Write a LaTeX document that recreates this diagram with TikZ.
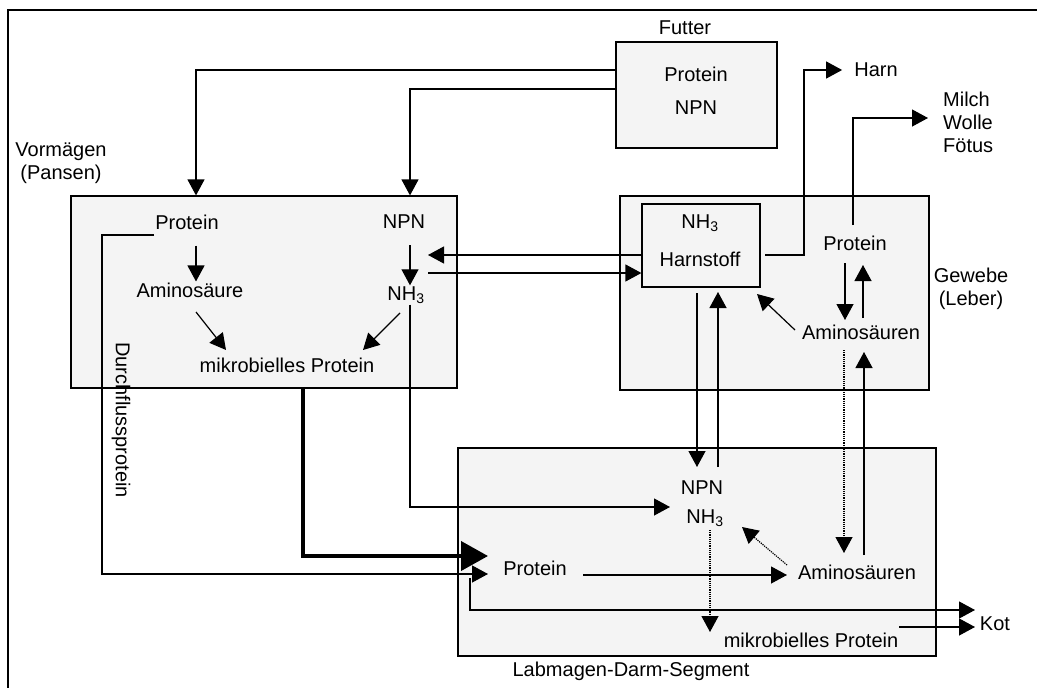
\documentclass[tikz,border=0pt]{standalone}
\usepackage{fontspec}
\setmainfont{Liberation Sans}
\usetikzlibrary{arrows.meta,fit}

\newcommand\fs{\fontsize{20}{23}\selectfont}

\tikzset{
	txt/.style={font=\fs, inner sep=1pt},
	box/.style={draw, fill=gray!9, line width=1.2pt, inner sep=0pt},
	ln/.style={line width=1.2pt},
	arr/.style={ln, -{Triangle[length=16pt,width=17pt]}},
	bigarr/.style={line width=4pt, -{Triangle[length=27pt,width=29pt]}},
	dots/.style={arr, densely dotted},
}

\begin{document}
\begin{tikzpicture}[x=1pt, y=-1pt]
	\clip (0,0) rectangle (1037,688);
	\fill[white] (0,0) rectangle (1037,688);
	\draw[ln] (8,10) rectangle (1060,720);
	
	% boxes
	\node[box, fit={(616,42) (777,148)}] (futter) {};
	\node[box, fit={(71,196) (457,388)}] (vorm) {};
	\node[box, fit={(620,196) (929,390)}] (gewebe) {};
	\node[box, fit={(642,204) (760,287)}] (hst) {};
	\node[box, fit={(458,448) (936,656)}] (darm) {};
	
	% labels outside
	\node[txt] (futterlbl) at (685,28) {Futter};
	\node[txt, align=center] (vorlbl) at (61,163) {Vormägen\\(Pansen)};
	\node[txt, align=center] (gewlbl) at (971,289) {Gewebe\\(Leber)};
	\node[txt] (harn) at (876,70) {Harn};
	\node[txt, align=left, anchor=west] (milch) at (942,122) {Milch\\Wolle\\Fötus};
	\node[txt] (kot) at (995,624) {Kot};
	\node[txt] (darmlbl) at (631,671) {Labmagen-Darm-Segment};
	\node[txt, rotate=-90] (durch) at (121,420) {Durchflussprotein};
	
	% Futter
	\node[txt] (fp) at (696,74) {Protein};
	\node[txt] (fnpn) at (696,108) {NPN};
	
	% Vormaegen
	\node[txt] (vp) at (187,222) {Protein};
	\node[txt] (vnpn) at (404,222) {NPN};
	\node[txt] (vas) at (190,290) {Aminosäure};
	\node[txt] (vnh) at (406,295) {NH\textsubscript{3}};
	\node[txt] (vmp) at (287,365) {mikrobielles Protein};
	
	% Gewebe
	\node[txt] (gnh) at (700,223) {NH\textsubscript{3}};
	\node[txt] (gharn) at (700,259) {Harnstoff};
	\node[txt] (gp) at (855,243) {Protein};
	\node[txt] (gas) at (861,332) {Aminosäuren};
	
	% Labmagen-Darm
	\node[txt] (lnpn) at (702,488) {NPN};
	\node[txt] (lnh) at (705,518) {NH\textsubscript{3}};
	\node[txt] (lp) at (535,568) {Protein};
	\node[txt] (las) at (857,572) {Aminosäuren};
	\node[txt] (lmp) at (811,640) {mikrobielles Protein};
	
	% Futter -> Vormaegen
	\draw[arr] (futter.west |- 0,70) -| (vorm.north -| 196,0);
	\draw[arr] (futter.west |- 0,89) -| (vorm.north -| 410,0);
	
	% inside Vormaegen
	\draw[arr, shorten <=15pt] (vp.south -| 196,0) -- (vas.north -| 196,0);
	\draw[arr, shorten <=15pt] (vnpn.south -| 410,0) -- (vnh.north -| 410,0);
	\draw[arr] (196,312) -- (226,350);
	\draw[arr] (400,313) -- (363,350);
	
	% Vormaegen <-> Harnstoff
	\draw[arr] (hst.west |- 0,255) -- (428,255);
	\draw[arr] (428,273) -- (hst.west |- 0,273);
	
	% Gewebe
	\draw[arr, shorten >=11pt] (765,255) -| (804,70) -- (harn.west);
	\draw[arr] (853,225) |- (928,118);
	\draw[arr] (845,263) -- (845,320);
	\draw[arr] (863,318) -- (863,265);
	\draw[arr] (795,330) -- (757,294);
	
	% Gewebe <-> Labmagen-Darm
	\draw[arr] (697,293) -- (697,467);
	\draw[arr] (718,467) -- (718,292);
	\draw[dots] (844,350) -- (844,553);
	\draw[arr] (864,555) -- (864,352);
	
	% Vormaegen -> Labmagen-Darm
	\draw[arr] (vnh.south -| 410,0) |- (670,507);
	\draw[bigarr] (vorm.south -| 303,0) |- (488,556);
	\draw[arr] (vp.west |- 0,235) -| (102,574) -- (488,574);
	
	% inside Labmagen-Darm
	\draw[arr] (583,575) -- (787,575);
	\draw[dots] (787,565) -- (742,527);
	\draw[dots] (710,530) -- (710,632);
	\draw[arr] (470,578) |- (975,610);
	\draw[arr] (899,627) -- (975,627);
\end{tikzpicture}
\end{document}
